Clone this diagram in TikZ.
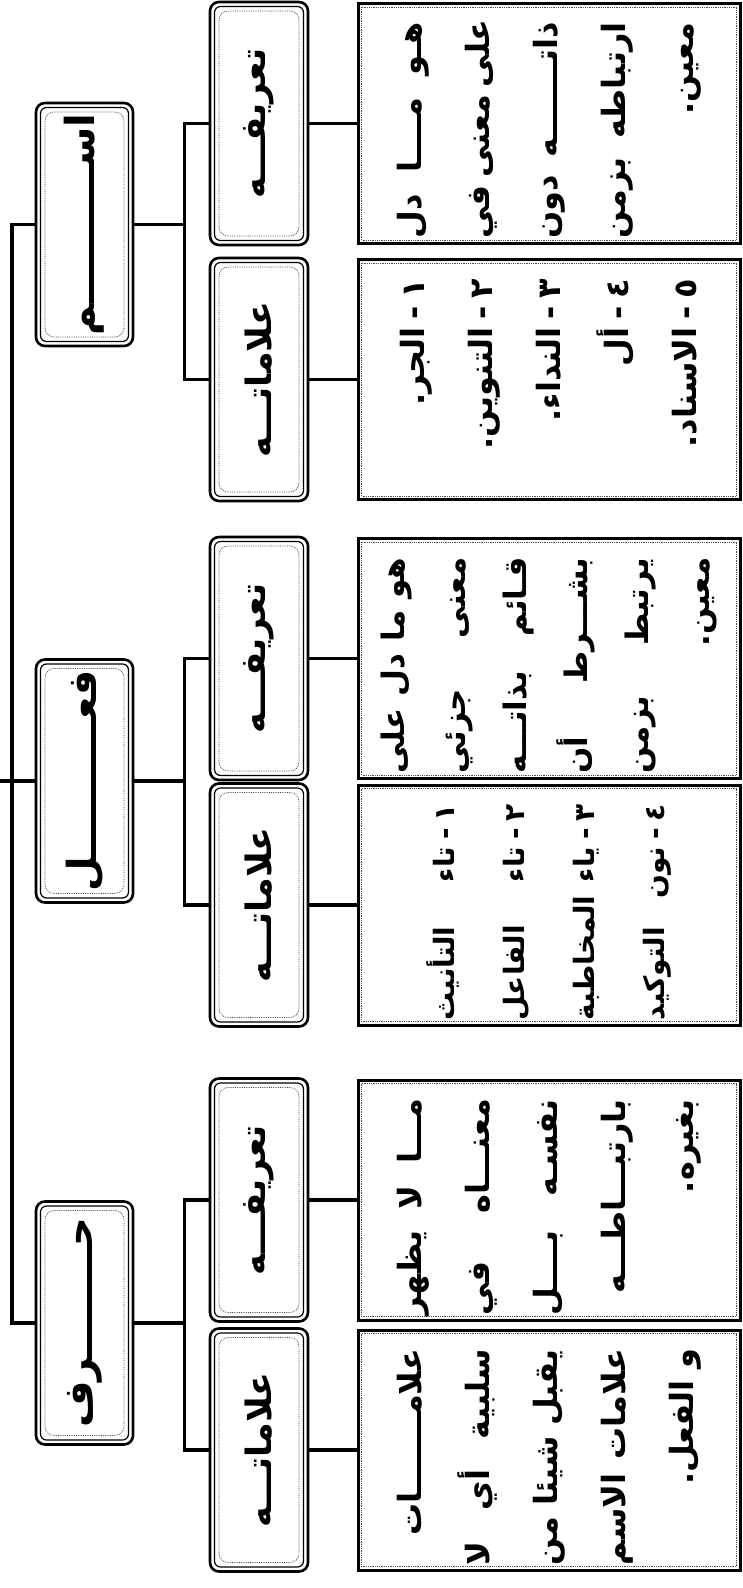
\documentclass[tikz,border=0pt]{standalone}
\usepackage{fontspec}
\usepackage{graphicx}
\newfontfamily\arabicfont[Script=Arabic]{DejaVu Sans}
\TeXXeTstate=1
\newcommand{\AL}[1]{\hbox to \hsize{\hfil\beginR #1\endR}}
\newcommand{\AJ}[1]{\hbox to \hsize{\beginR #1\endR}}
\newcommand{\DS}{\hskip 0.25em-\hskip 0.25em}
\newcommand{\RotTxt}[4]{\rotatebox{90}{\hbox{\vbox{\hsize=#1\arabicfont\bfseries\fontsize{#2}{#3}\selectfont #4}\hskip 14pt}}}
\newcommand{\Head}[2]{\rotatebox{90}{\arabicfont\bfseries\fontsize{#1}{44}\selectfont\beginR #2\endR}}
\tikzset{
  conn/.style={line width=3.2pt},
  headbox/.style={draw, line width=2.6pt, rounded corners=9pt, inner sep=0pt,
    path picture={
      \draw[line width=1.2pt, rounded corners=6pt]
        ([shift={(4.5pt,-4.5pt)}]path picture bounding box.north west) rectangle
        ([shift={(-4.5pt,4.5pt)}]path picture bounding box.south east);
      \draw[line width=0.8pt, densely dotted, black!70]
        ([shift={(9pt,-9pt)}]path picture bounding box.north west) rectangle
        ([shift={(-9pt,9pt)}]path picture bounding box.south east);
    }},
  mainbox/.style={headbox, minimum width=97pt, minimum height=243pt},
  subbox/.style={headbox, minimum width=98pt, minimum height=243pt},
  textbox/.style={draw, line width=3pt, inner sep=0pt, minimum width=382pt, minimum height=240pt,
    path picture={
      \draw[line width=0.8pt, densely dotted, black!70]
        ([shift={(3.5pt,-3.5pt)}]path picture bounding box.north west) rectangle
        ([shift={(-3.5pt,3.5pt)}]path picture bounding box.south east);
    }},
}
\begin{document}
\begin{tikzpicture}[x=1pt,y=-1pt]
\fill[white] (0,0) rectangle (742,1588);
\useasboundingbox (0,0) rectangle (742,1588);

% main boxes
\node[mainbox] (ism)  at (84.5,224.5) {\Head{40}{اســــــــــم}};
\node[mainbox] (fil)  at (84.5,781)   {\Head{40}{فعــــــــــل}};
\node[mainbox] (harf) at (84.5,1323)  {\Head{40}{حــــــــرف}};

% sub boxes
\node[subbox] (ismT)  at (259,123.5) {\Head{35}{تعريفـــه}};
\node[subbox] (ismA)  at (259,379.5) {\Head{35}{علاماتـــه}};
\node[subbox] (filT)  at (259,658.5) {\Head{35}{تعريفـــه}};
\node[subbox] (filA)  at (259,905)   {\Head{35}{علاماتـــه}};
\node[subbox] (harfT) at (259,1200)  {\Head{35}{تعريفـــه}};
\node[subbox] (harfA) at (259,1450)  {\Head{35}{علاماتـــه}};

% content boxes
\node[textbox] (ismTc) at (549,123.5) {\RotTxt{216pt}{32}{68}{%
  \AJ{هـو مــــا دل}
  \AJ{على معنى في}
  \AJ{ذاتـــــــه دون}
  \AJ{ارتباطه بزمن}
  \AL{معين.}}};
\node[textbox] (ismAc) at (549,379.5) {\RotTxt{216pt}{32}{68}{%
  \AL{١\DS الجر.}
  \AL{٢\DS التنوين.}
  \AL{٣\DS النداء.}
  \AL{٤\DS أل}
  \AL{٥\DS الاسناد.}}};
\node[textbox] (filTc) at (549,658.5) {\RotTxt{216pt}{31}{61}{%
  \AJ{هو ما دل على}
  \AJ{معنى جزئي}
  \AJ{قـائم بذاتـــه}
  \AJ{بشـــرط أن}
  \AJ{يرتبط بزمن}
  \AL{معين.}}};
\node[textbox] (filAc) at (549,905) {\RotTxt{216pt}{28}{70}{%
  \AJ{١\DS تاء التأنيث}
  \AJ{٢\DS تاء الفاعل}
  \AJ{٣\DS ياء المخاطبة}
  \AJ{٤\DS نون التوكيد}}};
\node[textbox] (harfTc) at (549,1200) {\RotTxt{216pt}{32}{68}{%
  \AJ{مـــا لا يظهر}
  \AJ{معنـــاه في}
  \AJ{نفسـه بــــل}
  \AL{بارتبـــاطـــه}
  \AL{بغيره.}}};
\node[textbox] (harfAc) at (549,1450) {\RotTxt{216pt}{32}{68}{%
  \AL{علامـــــــات}
  \AJ{سلبية أي لا}
  \AJ{يقبل شيئا من}
  \AJ{علامات الاسم}
  \AL{و الفعل.}}};

% root connectors
\coordinate (rootstub) at (0,781);
\coordinate (rootbot) at (12,1323);
\draw[conn] (ism.west) -| (rootbot) -- (harf.west);
\draw[conn] (rootstub) -- (fil.west);

% main -> sub connectors
\foreach \m/\t/\a in {ism/ismT/ismA, fil/filT/filA, harf/harfT/harfA}{
  \draw[conn] (\t.west) -- ++(-24pt,0) |- (\a.west);
  \draw[conn] (\m.east) -- ([xshift=-24pt]\t.west |- \m.east);
  \draw[conn] (\t.east) -- (\t c.west);
  \draw[conn] (\a.east) -- (\a c.west);
}
\end{tikzpicture}
\end{document}
